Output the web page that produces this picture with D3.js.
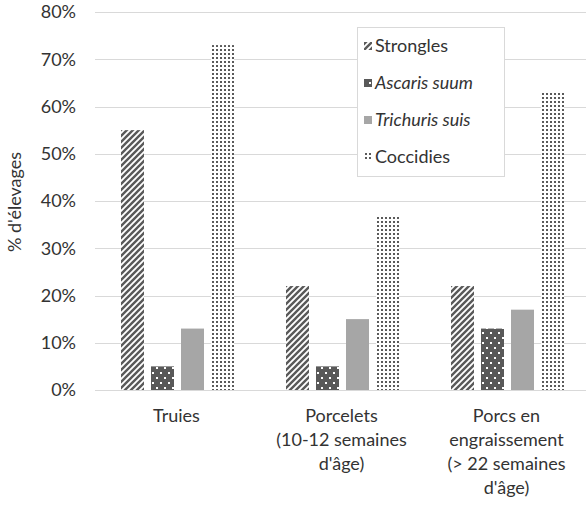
<!DOCTYPE html>
<html><head><meta charset="utf-8">
<script src="https://cdn.jsdelivr.net/npm/d3@7/dist/d3.min.js"></script>
<style>
html,body{margin:0;padding:0;background:#fff;}
svg{display:block;font-family:Lato, "Open Sans", sans-serif;}
</style></head>
<body>
<svg id="chart" width="586" height="508"></svg>
<script>
const categories = [
  ["Truies"],
  ["Porcelets", "(10-12 semaines", "d'âge)"],
  ["Porcs en", "engraissement", "(> 22 semaines", "d'âge)"]
];
const categoryKeys = ["Truies", "Porcelets", "Porcs"];
const seriesNames = ["Strongles", "Ascaris suum", "Trichuris suis", "Coccidies"];
const seriesItalic = [false, true, true, false];
const strongles = [0.55, 0.22, 0.22];
const ascaris = [0.05, 0.05, 0.13];
const trichuris = [0.13, 0.15, 0.17];
const coccidies = [0.73, 0.37, 0.63];
const seriesValues = [strongles, ascaris, trichuris, coccidies];
const yTicks = [0, 0.1, 0.2, 0.3, 0.4, 0.5, 0.6, 0.7, 0.8];
const yTitle = "% d'élevages";

const svg = d3.select("#chart");
const W = 586, H = 508;
const plotLeft = 95, plotRight = 590, plotTop = 12, plotBottom = 390;
const FS = 18;

const defs = svg.append("defs");
// Strongles: upward diagonal stripes
const p1 = defs.append("pattern").attr("id","pStr").attr("patternUnits","userSpaceOnUse")
  .attr("width",6).attr("height",6);
p1.append("rect").attr("width",6).attr("height",6).attr("fill","#fff");
p1.append("path").attr("d","M-2,2 L2,-2 M0,6 L6,0 M4,8 L8,4")
  .attr("stroke","#595959").attr("stroke-width",2.4);
// Ascaris: dark with white dots
const p2 = defs.append("pattern").attr("id","pAsc").attr("patternUnits","userSpaceOnUse")
  .attr("width",8).attr("height",10);
p2.append("rect").attr("width",8).attr("height",10).attr("fill","#595959");
p2.append("rect").attr("x",1).attr("y",2).attr("width",2).attr("height",2).attr("fill","#fff");
p2.append("rect").attr("x",5).attr("y",7).attr("width",2).attr("height",2).attr("fill","#fff");
// Coccidies: small dark dots
const p4 = defs.append("pattern").attr("id","pCoc").attr("patternUnits","userSpaceOnUse")
  .attr("width",4).attr("height",4);
p4.append("rect").attr("width",4).attr("height",4).attr("fill","#fff");
p4.append("rect").attr("x",1).attr("y",1).attr("width",2).attr("height",2).attr("fill","#5a5a5a");

const fills = ["url(#pStr)", "url(#pAsc)", "#a6a6a6", "url(#pCoc)"];

const y = d3.scaleLinear().domain([0, 0.8]).range([plotBottom, plotTop]);
const x0 = d3.scaleBand().domain(categoryKeys).range([plotLeft, plotRight]).padding(0);
const x1 = d3.scaleBand().domain(seriesNames).range([26, 139]).paddingInner(7/30).paddingOuter(0);

// gridlines
svg.append("g").selectAll("line").data(yTicks).join("line")
  .attr("x1", plotLeft).attr("x2", W)
  .attr("y1", d => Math.round(y(d)) + 0.5).attr("y2", d => Math.round(y(d)) + 0.5)
  .attr("stroke", "#d9d9d9").attr("stroke-width", 1);

// y axis labels
const yAxis = d3.axisLeft(y).tickValues(yTicks).tickFormat(d3.format(".0%")).tickSize(0).tickPadding(0);
const gy = svg.append("g").attr("transform", `translate(76,0)`).call(yAxis);
gy.select(".domain").remove();
gy.selectAll("text").attr("font-size", FS).attr("fill", "#333").attr("font-family", "Lato, sans-serif");

// bars
const groups = svg.append("g").selectAll("g").data(categoryKeys).join("g")
  .attr("transform", d => `translate(${x0(d)},0)`);
groups.selectAll("rect").data((d, i) => seriesNames.map((s, j) => ({s, j, v: seriesValues[j][i]})))
  .join("rect")
  .attr("x", d => x1(d.s)).attr("width", x1.bandwidth())
  .attr("y", d => y(d.v)).attr("height", d => y(0) - y(d.v))
  .attr("fill", d => fills[d.j]);

// category labels
categories.forEach((lines, i) => {
  const cx = x0(categoryKeys[i]) + x0.bandwidth() / 2 - 1;
  const t = svg.append("text").attr("text-anchor", "middle").attr("font-size", FS).attr("fill", "#333");
  lines.forEach((ln, k) => {
    t.append("tspan").attr("x", cx).attr("y", 422 + k * 24).text(ln);
  });
});

// y title
svg.append("text").attr("transform", `translate(21,202) rotate(-90)`)
  .attr("text-anchor", "middle").attr("font-size", FS).attr("fill", "#333").text(yTitle);

// legend
const lg = svg.append("g");
lg.append("rect").attr("x", 357.5).attr("y", 27.5).attr("width", 147).attr("height", 149)
  .attr("fill", "#fff").attr("stroke", "#d9d9d9");
const ly = d3.scalePoint().domain(seriesNames).range([46, 157]);
seriesNames.forEach((s, j) => {
  lg.append("rect").attr("x", 364).attr("y", ly(s) - 4).attr("width", 8).attr("height", 8).attr("fill", fills[j]);
  lg.append("text").attr("x", 375).attr("y", ly(s) + 6).attr("font-size", FS).attr("fill", "#333")
    .attr("font-style", seriesItalic[j] ? "italic" : "normal").text(s);
});
</script>
</body></html>
